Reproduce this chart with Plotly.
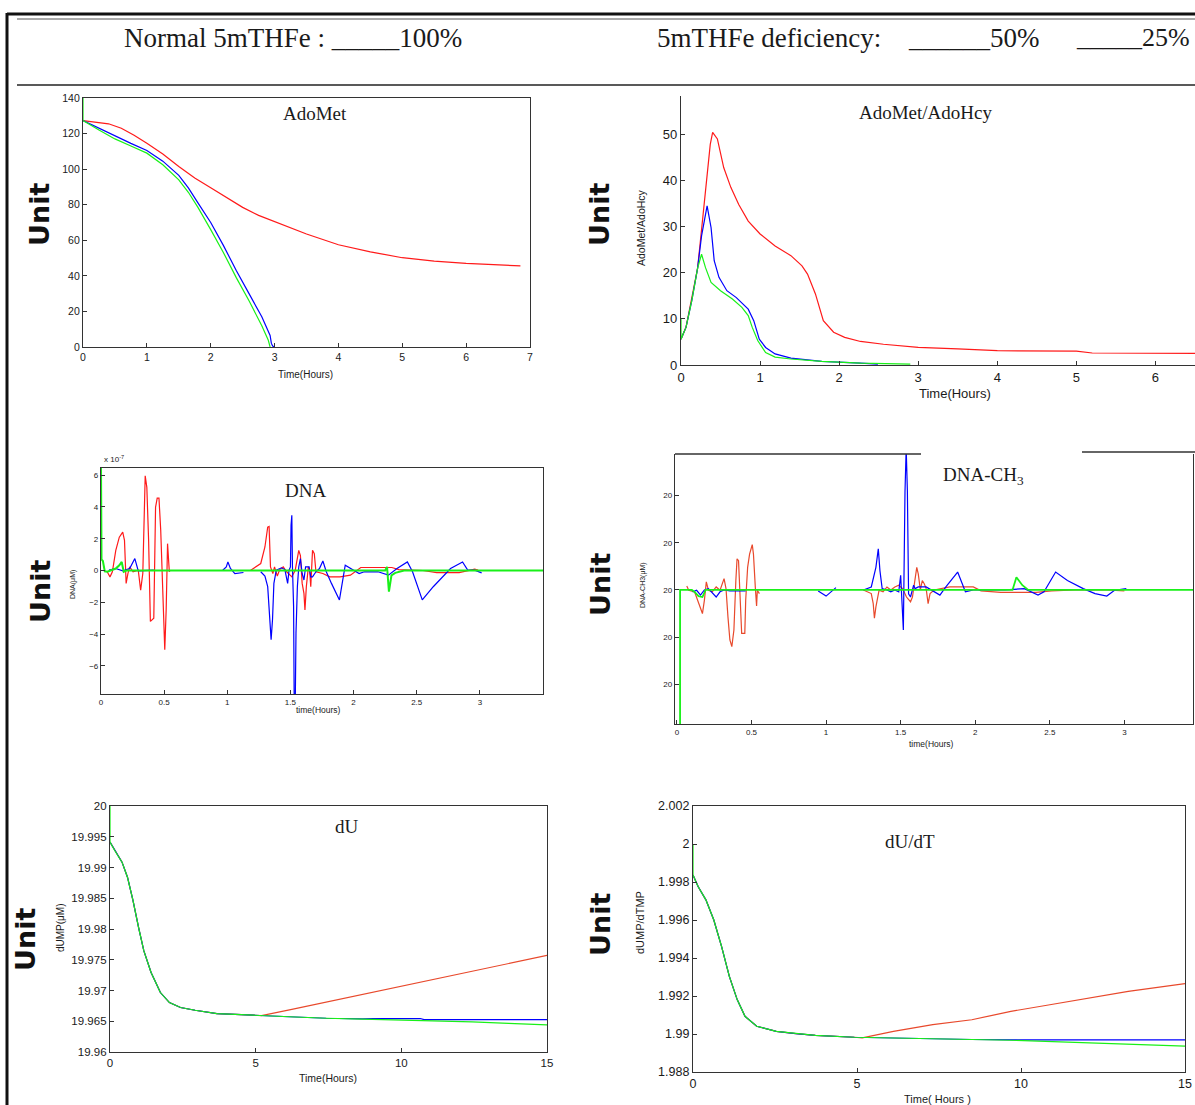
import plotly.graph_objects as go

# ---------------- DATA ----------------
# Panel 1: AdoMet
adomet_t_red = [0, 0.2, 0.4, 0.6, 0.8, 1.0, 1.25, 1.5, 1.75, 2.0, 2.25, 2.5, 2.75, 3.0, 3.5, 4.0, 4.5, 5.0, 5.5, 6.0, 6.5, 6.85]
adomet_red = [127.3, 126.5, 125.5, 123, 119, 114.5, 108.5, 101.5, 95, 89.5, 84, 78.5, 74, 70.5, 63.5, 57.5, 53.5, 50.2, 48.3, 47, 46, 45.6]
adomet_t_blue = [0, 0.25, 0.5, 0.75, 1.0, 1.25, 1.5, 1.65, 1.8, 2.0, 2.2, 2.4, 2.6, 2.8, 2.93, 2.95, 2.97, 3.0]
adomet_blue = [127.3, 123, 118.5, 114.5, 110.5, 104.5, 96.5, 89.5, 81, 70, 57, 43, 30, 17, 6.5, 2, 0.5, 0]
adomet_t_green = [0, 0, 0.25, 0.5, 0.75, 1.0, 1.25, 1.5, 1.65, 1.8, 2.0, 2.2, 2.4, 2.6, 2.8, 2.9, 2.93]
adomet_green = [140, 127.3, 122, 117, 113, 109, 102.5, 94, 87, 78.5, 66, 53, 39, 26, 12, 4, 0]

# Panel 2: AdoMet/AdoHcy
ratio_t_red = [0, 0.064, 0.137, 0.21, 0.28, 0.33, 0.37, 0.4, 0.46, 0.54, 0.63, 0.73, 0.85, 1.0, 1.19, 1.39, 1.53, 1.6, 1.7, 1.8, 1.93, 2.07, 2.27, 2.56, 3.0, 3.5, 4.0, 5.0, 5.2, 6.5]
ratio_red = [5.6, 8.2, 14.6, 21, 32.7, 41, 47.8, 50.4, 49, 42.8, 38.5, 34.8, 31.2, 28.4, 25.8, 23.7, 21.5, 19.7, 15.4, 9.6, 7.1, 6.0, 5.1, 4.5, 3.8, 3.5, 3.1, 3.0, 2.6, 2.5]
ratio_t_blue = [0, 0.064, 0.137, 0.21, 0.26, 0.33, 0.38, 0.42, 0.48, 0.58, 0.7, 0.85, 0.92, 0.99, 1.07, 1.19, 1.39, 1.78, 2.27, 2.49]
ratio_blue = [5.6, 8.2, 14, 21, 28, 34.5, 29.8, 22.6, 19, 16.1, 14.6, 12.1, 9.6, 5.6, 3.8, 2.4, 1.5, 0.8, 0.4, 0.2]
ratio_t_green = [0, 0, 0.064, 0.137, 0.21, 0.26, 0.31, 0.38, 0.5, 0.65, 0.77, 0.85, 0.9, 0.97, 1.07, 1.19, 1.39, 1.78, 2.27, 2.9]
ratio_green = [10.2, 5.6, 8.2, 14, 21, 24, 21.1, 17.9, 16.1, 14.3, 12.5, 10.7, 8.2, 5.3, 2.7, 1.7, 1.3, 0.8, 0.4, 0.2]

# Panel 3: DNA (units of 1e-7 uM)
dna_t_red = [0.049, 0.071, 0.090, 0.117, 0.145, 0.172, 0.186, 0.199, 0.213, 0.227, 0.254, 0.295, 0.314, 0.331, 0.350, 0.363, 0.377, 0.391, 0.418, 0.432, 0.445, 0.459, 0.473, 0.495, 0.505, 0.516, 0.527, 0.541, 0.546, None,
             1.183, 1.265, 1.298, 1.320, 1.331, 1.342, 1.361, 1.374, 1.396, 1.415, 1.443, 1.470, 1.511, 1.538, 1.566, 1.579, 1.593, 1.607, 1.615, 1.626, 1.642, 1.653, 1.661, 1.675, 1.689, 1.702, 1.757, 1.811, 1.893, 1.975, 2.057, 2.303, 2.358, 2.549, 2.658, 2.836, 2.959, 2.986]
dna_red_e7 = [-0.08, -0.4, -0.08, 1.27, 2.1, 2.42, 1.9, -0.81, -0.19, 0.23, -0.08, 0.02, -1.23, -0.19, 5.96, 5.23, 1.9, -3.2, -3.0, 3.98, 4.56, 4.56, 2.52, -3.73, -4.98, -2.48, 1.69, -0.08, 0.0, None,
              0, 0.44, 1.48, 2.73, 2.77, 0.23, -0.19, 0.23, -0.35, 0.06, 0.23, -0.08, -0.4, 0.02, 1.27, 0.94, -0.81, -1.44, -2.48, -1.02, 0.23, -0.08, -1.02, 1.27, 1.06, -0.08, -0.19, -0.4, -0.4, -0.29, 0.19, 0.19, 0.06, 0.0, -0.13, -0.13, 0.08, 0.02]
dna_t_blue = [0.063, 0.117, 0.172, 0.227, 0.268, 0.295, 0.418, None,
              0.964, 0.992, 1.005, 1.025, 1.060, 1.128, None,
              1.265, 1.298, 1.320, 1.336, 1.347, 1.358, 1.369, 1.388, 1.429, 1.456, 1.478, 1.489, 1.500, 1.505, 1.511, 1.516, 1.525, 1.530, 1.538, 1.544, 1.555, 1.566, 1.579, 1.593, 1.607, 1.620, 1.648, 1.661, 1.675, 1.702, 1.730, 1.757, 1.784, 1.825, 1.888, 1.934, 1.975, 2.044, 2.085, 2.194, 2.276, 2.344, 2.426, 2.467, 2.544, 2.631, 2.768, 2.863, 2.904, 2.959, 3.014]
dna_blue_e7 = [0.02, 0.125, -0.02, 0.125, 0.75, -0.02, 0.02, None,
               0.02, 0.23, 0.54, 0.125, -0.19, -0.125, None,
               -0.08, -0.35, -1.02, -2.69, -4.35, -3.1, -0.81, 0.02, 0.17, 0.06, -0.81, 0.02, 0.23, 2.85, 3.48, 0.23, -2.27, -8.5, -8.5, -3.94, -1.02, 0.23, 0.75, -0.19, -0.6, 0.23, 0.23, -0.4, -0.4, -0.08, 0.125, 0.6, -0.08, -0.81, -1.85, 0.33, 0.125, -0.19, -0.08, -0.08, -0.29, 0.125, 0.54, -0.08, -1.85, -1.02, 0.125, 0.54, 0.02, 0.02, -0.15]
dna_t_green = [0, 0.004, 0.015, 0.03, 0.05, 0.08, 0.117, 0.145, 0.164, 0.18, 0.2, 2.25, 2.265, 2.28, 2.30, 2.33, 2.38, 2.4, 3.5]
dna_green_e7 = [6.6, 0.7, 0.6, -0.05, -0.08, 0.02, 0.125, 0.33, 0.54, -0.08, 0, 0, 0.23, -1.33, -0.3, -0.15, -0.05, 0, 0]
dna_xtickvals = [0, 0.5, 1, 1.5, 2, 2.5, 3]

# Panel 4: DNA-CH3 (offset from the "20" tick, in tick steps)
me_t_red = [0.066, 0.079, 0.118, 0.145, 0.171, 0.184, 0.197, 0.211, 0.237, 0.263, 0.289, 0.316, 0.329, 0.342, 0.355, 0.368, 0.382, 0.395, 0.403, 0.413, 0.426, 0.434, 0.455, 0.461, 0.474, 0.487, 0.505, 0.513, 0.526, 0.534, 0.539, 0.553, None,
            1.25, 1.303, 1.316, 1.324, 1.334, 1.355, 1.382, 1.408, 1.434, 1.461, 1.487, 1.513, 1.539, 1.566, 1.579, 1.597, 1.608, 1.618, 1.632, 1.645, 1.658, 1.671, 1.684, 1.697, 1.724, 1.829, 1.987, 2.039, 2.171, 2.408, 2.513, 2.671, 2.882, 3.0]
me_red = [0.084, -0.007, -0.04, -0.29, -0.5, -0.22, 0.17, -0.007, -0.04, 0.063, -0.007, 0.24, 0.028, -0.57, -1.06, -1.2, -0.85, 0.2, 0.66, 0.62, -0.22, -0.92, -0.92, -0.22, 0.48, 0.76, 0.96, 0.76, 0.028, -0.34, -0.007, -0.077, None,
          0, -0.077, -0.29, -0.6, -0.36, -0.007, -0.04, 0.063, 0, 0.063, 0.1, 0.028, -0.15, -0.25, -0.15, 0.2, 0.48, 0.34, 0, 0.2, 0.13, 0.028, -0.29, -0.077, 0, 0.063, 0.063, -0.02, -0.05, -0.05, -0.02, 0, 0, -0.02]
me_t_blue = [0.105, 0.132, 0.158, 0.184, 0.211, 0.25, 0.263, 0.289, 0.316, 0.355, 0.461, None,
             0.947, 1.0, 1.066, None,
             1.25, 1.303, 1.334, 1.350, 1.361, 1.376, 1.408, 1.434, 1.461, 1.487, 1.5, 1.508, 1.518, 1.529, 1.537, 1.545, 1.553, 1.566, 1.587, 1.597, 1.618, 1.671, 1.724, 1.763, 1.803, 1.882, 1.934, 1.987, 2.092, 2.197, 2.329, 2.421, 2.461, 2.539, 2.618, 2.724, 2.803, 2.882, 2.934, 3.013]
me_blue = [-0.04, -0.007, -0.11, 0, 0.028, -0.11, -0.15, -0.04, 0, -0.02, -0.02, None,
           -0.02, -0.13, 0.05, None,
           0, 0.063, 0.48, 0.87, 0.41, 0.028, 0, -0.04, 0, -0.04, 0.31, -0.15, -0.85, 2.07, 3.0, 2.1, -0.08, -0.15, 0.1, 0.028, 0.063, 0.063, -0.04, -0.11, 0.063, 0.38, -0.04, 0, 0, 0, 0.028, -0.11, -0.04, 0.38, 0.2, 0.028, -0.077, -0.13, -0.007, 0.028]
me_t_green = [0.021, 0.021, 0.1, 0.118, 0.145, 0.171, 0.192, 2.25, 2.276, 2.316, 2.355, 3.5]
me_green = [-3.2, 0, 0, -0.04, -0.13, -0.15, 0, 0, 0.27, 0.1, 0, 0]
me_tickvals = [-2, -1, 0, 1, 2]
me_ticktext = ["20", "20", "20", "20", "20"]

# Panel 5: dU
du_t_red = [0, 0.163, 0.413, 0.6, 0.79, 0.98, 1.16, 1.41, 1.73, 2.04, 2.42, 2.92, 3.67, 4.92, 5.2, 6.2, 7.4, 8.7, 10, 11.2, 12.4, 13.7, 15]
du_red = [19.99413, 19.99277, 19.99087, 19.98842, 19.98462, 19.98027, 19.97647, 19.97293, 19.96967, 19.96804, 19.96723, 19.96679, 19.96625, 19.96598, 19.9659, 19.9669, 19.9681, 19.9695, 19.9707, 19.9719, 19.9731, 19.9744, 19.9757]
du_t_blue = [0, 0.163, 0.413, 0.6, 0.79, 0.98, 1.16, 1.41, 1.73, 2.04, 2.42, 2.92, 3.67, 4.92, 6.17, 7.42, 8.67, 9.05, 10.65, 10.78, 15]
du_blue = [19.99413, 19.99277, 19.99087, 19.98842, 19.98462, 19.98027, 19.97647, 19.97293, 19.96967, 19.96804, 19.96723, 19.96679, 19.96625, 19.96598, 19.96571, 19.96549, 19.96540, 19.96544, 19.96544, 19.96527, 19.96527]
du_t_green = [0, 0, 0.163, 0.413, 0.6, 0.79, 0.98, 1.16, 1.41, 1.73, 2.04, 2.42, 2.92, 3.67, 4.92, 6.17, 7.42, 8.67, 9.92, 11.18, 12.43, 13.68, 15]
du_green = [20.0, 19.99413, 19.99277, 19.99087, 19.98842, 19.98462, 19.98027, 19.97647, 19.97293, 19.96967, 19.96804, 19.96723, 19.96679, 19.96625, 19.96598, 19.96571, 19.96549, 19.96533, 19.96522, 19.96505, 19.96489, 19.96467, 19.9644]
du_tickvals = [19.96, 19.965, 19.97, 19.975, 19.98, 19.985, 19.99, 19.995, 20.0]
du_ticktext = ["19.96", "19.965", "19.97", "19.975", "19.98", "19.985", "19.99", "19.995", "20"]

# Panel 6: dU/dT
dudt_t_red = [0, 0.155, 0.393, 0.632, 0.87, 1.108, 1.347, 1.585, 1.943, 2.539, 3.135, 3.73, 4.92, 5.16, 6.11, 7.31, 8.5, 9.69, 10.88, 12.07, 13.27, 15]
dudt_red = [1.998375, 1.997762, 1.997061, 1.996011, 1.99461, 1.993033, 1.99181, 1.99093, 1.99041, 1.99014, 1.99002, 1.98993, 1.98983, 1.9898, 1.99014, 1.99049, 1.99075, 1.99119, 1.99154, 1.99189, 1.99224, 1.99265]
dudt_t_blue = [0, 0.155, 0.393, 0.632, 0.87, 1.108, 1.347, 1.585, 1.943, 2.539, 3.135, 3.73, 4.92, 6.11, 7.31, 8.5, 10.0, 15]
dudt_blue = [1.998375, 1.997762, 1.997061, 1.996011, 1.99461, 1.993033, 1.99181, 1.99093, 1.99041, 1.99014, 1.99002, 1.98993, 1.98983, 1.98978, 1.98974, 1.98971, 1.98969, 1.98969]
dudt_t_green = [0, 0, 0.155, 0.393, 0.632, 0.87, 1.108, 1.347, 1.585, 1.943, 2.539, 3.135, 3.73, 4.92, 6.11, 7.31, 8.5, 9.69, 10.88, 12.07, 13.27, 15]
dudt_green = [2.0, 1.998375, 1.997762, 1.997061, 1.996011, 1.99461, 1.993033, 1.99181, 1.99093, 1.99041, 1.99014, 1.99002, 1.98993, 1.98983, 1.98978, 1.98974, 1.98971, 1.98967, 1.9896, 1.98953, 1.98944, 1.98936]
dudt_tickvals = [1.988, 1.99, 1.992, 1.994, 1.996, 1.998, 2.0, 2.002]
dudt_ticktext = ["1.988", "1.99", "1.992", "1.994", "1.996", "1.998", "2", "2.002"]

# ---------------- LAYOUT ----------------
W, H = 1195, 1105
def fx(x):
    return x / W
def fy(y):
    return 1 - y / H

RED = "#ff1a1a"
RED2 = "#e8492c"
BLUE = "#0000ff"
GREEN = "#19f019"
SERIF = "Liberation Serif, Times New Roman, serif"
SANS = "Liberation Sans, Arial, sans-serif"
INK = "#1a1a1a"

boxes = {
    1: (83, 530, 98, 347),
    2: (681, 1195, 96, 365),
    3: (101, 543, 468, 694),
    4: (675, 1193, 454, 724),
    5: (110, 547, 806, 1052),
    6: (693, 1185, 806, 1072),
}

fig = go.Figure()

def add(i, xs, ys, color, width=1.2):
    fig.add_trace(go.Scatter(x=xs, y=ys, mode="lines", line=dict(color=color, width=width),
                             xaxis="x" if i == 1 else f"x{i}", yaxis="y" if i == 1 else f"y{i}",
                             showlegend=False, connectgaps=False, hoverinfo="skip"))

add(1, adomet_t_red, adomet_red, RED)
add(1, adomet_t_blue, adomet_blue, BLUE)
add(1, adomet_t_green, adomet_green, GREEN)

add(2, ratio_t_red, ratio_red, RED)
add(2, ratio_t_blue, ratio_blue, BLUE)
add(2, ratio_t_green, ratio_green, GREEN)

add(3, dna_t_red, dna_red_e7, RED)
add(3, dna_t_blue, dna_blue_e7, BLUE)
add(3, dna_t_green, dna_green_e7, GREEN, 2)

add(4, me_t_red, me_red, RED2)
add(4, me_t_blue, me_blue, BLUE)
add(4, me_t_green, me_green, GREEN, 1.8)

add(5, du_t_red, du_red, RED2)
add(5, du_t_blue, du_blue, BLUE)
add(5, du_t_green, du_green, GREEN)

add(6, dudt_t_red, dudt_red, RED2)
add(6, dudt_t_blue, dudt_blue, BLUE)
add(6, dudt_t_green, dudt_green, GREEN)

def axis(rng, fsize, mirror, **kw):
    d = dict(showline=True, linecolor="#333", linewidth=1.3, ticks="inside", ticklen=4,
             tickcolor="#333", showgrid=False, zeroline=False, range=rng, mirror=mirror,
             automargin=False, tickfont=dict(family=SANS, size=fsize, color=INK))
    d.update(kw)
    return d

lay = {}
specs = {
    1: dict(xr=[0, 7], yr=[0, 140], fs=10.5, mir=True, xk=dict(dtick=1), yk=dict(dtick=20)),
    2: dict(xr=[0, 6.5], yr=[0, 58.3], fs=13, mir=False, xk=dict(dtick=1), yk=dict(dtick=10)),
    3: dict(xr=[0, 3.5], yr=[-7.77, 6.45], fs=8, mir=True, xk=dict(tickvals=dna_xtickvals), yk=dict(dtick=2)),
    4: dict(xr=[-0.013, 3.46], yr=[-2.84, 2.88], fs=8, mir=False, xk=dict(dtick=0.5),
            yk=dict(tickvals=me_tickvals, ticktext=me_ticktext)),
    5: dict(xr=[0, 15], yr=[19.96, 20.0], fs=11.5, mir=True, xk=dict(dtick=5),
            yk=dict(tickvals=du_tickvals, ticktext=du_ticktext)),
    6: dict(xr=[0, 15], yr=[1.988, 2.002], fs=12.5, mir=True, xk=dict(dtick=5),
            yk=dict(tickvals=dudt_tickvals, ticktext=dudt_ticktext)),
}
for i, s in specs.items():
    x0, x1, y0, y1 = boxes[i]
    xn = "xaxis" if i == 1 else f"xaxis{i}"
    yn = "yaxis" if i == 1 else f"yaxis{i}"
    xa = "x" if i == 1 else f"x{i}"
    ya = "y" if i == 1 else f"y{i}"
    ymir = True if i == 4 else s["mir"]
    lay[xn] = axis(s["xr"], s["fs"], s["mir"], domain=[fx(x0), fx(x1)], anchor=ya, **s["xk"])
    lay[yn] = axis(s["yr"], s["fs"], ymir, domain=[fy(y1), fy(y0)], anchor=xa, **s["yk"])

fig.update_layout(width=W, height=H, margin=dict(l=0, r=0, t=0, b=0, pad=0, autoexpand=False),
                  paper_bgcolor="white", plot_bgcolor="white", showlegend=False, **lay)

anns = []
def ann(text, x, y, size, family=SANS, angle=0, xanchor="center", bold=False, color=INK):
    if bold:
        text = f"<b>{text}</b>"
    anns.append(dict(text=text, x=fx(x), y=fy(y), xref="paper", yref="paper", showarrow=False,
                     font=dict(family=family, size=size, color=color), textangle=angle,
                     xanchor=xanchor, yanchor="middle"))

# header
ann("Normal 5mTHFe : _____100%", 122, 38, 27, SERIF, xanchor="left")
ann("5mTHFe deficiency:", 655, 38, 27, SERIF, xanchor="left")
ann("______50%", 906, 38, 27, SERIF, xanchor="left")
ann("_____25%", 1074, 38, 26, SERIF, xanchor="left")

# panel titles
ann("AdoMet", 315, 114, 19, SERIF)
ann("AdoMet/AdoHcy", 925, 113, 19, SERIF)
ann("DNA", 305, 490, 19, SERIF)
ann("DNA-CH<sub>3</sub>", 983, 476, 19, SERIF)
ann("dU", 347, 826, 19, SERIF)
ann("dU/dT", 910, 841, 19, SERIF)

# Unit labels
UNIT = "DejaVu Sans, Verdana, sans-serif"
for (ux, uy) in [(40, 215), (600, 215), (40, 592), (600, 585), (25, 940), (600, 925)]:
    ann("Unit", ux, uy, 27, UNIT, angle=-90, bold=True, color="#111")

# y-axis small labels
ann("AdoMet/AdoHcy", 641, 228, 10.5, SANS, angle=-90)
ann("DNA(μM)", 73, 585, 7, SANS, angle=-90)
ann("DNA-CH3(μM)", 643, 585, 7, SANS, angle=-90)
ann("dUMP(μM)", 60, 928, 10, SANS, angle=-90)
ann("dUMP/dTMP", 640, 923, 11, SANS, angle=-90)

# x-axis titles
ann("Time(Hours)", 305, 374, 10, SANS)
ann("Time(Hours)", 955, 393, 13, SANS)
ann("time(Hours)", 318, 710, 8.5, SANS)
ann("time(Hours)", 932, 744, 8.5, SANS)
ann("Time(Hours)", 328, 1078, 10.5, SANS)
ann("Time( Hours )", 937, 1099, 11, SANS)
ann("x 10<sup>-7</sup>", 102, 459, 8, SANS, xanchor="left")

shapes = []
def line(x0, y0, x1, y1, w, color="#111"):
    shapes.append(dict(type="line", xref="paper", yref="paper", x0=fx(x0), y0=fy(y0), x1=fx(x1), y1=fy(y1),
                       line=dict(color=color, width=w)))
line(7, 14, 1195, 14, 3)
line(17, 19, 1195, 19, 1, "#555")
line(17, 85, 1195, 85, 1.5, "#222")
line(7, 13, 7, 1105, 3)
# partial top border of DNA-CH3 panel
line(675, 454, 921, 454, 1.3, "#333")
line(1082, 452, 1195, 452, 1.6, "#333")

fig.update_layout(annotations=anns, shapes=shapes)
fig.write_html("out.html", config={"displayModeBar": False},
               post_script="document.body.style.margin='0px';document.body.style.overflow='hidden';")
